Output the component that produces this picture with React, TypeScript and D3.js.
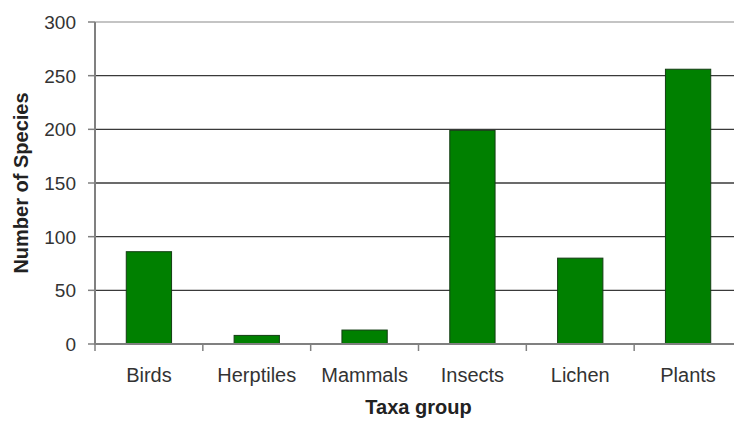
import React from "react";
import * as d3 from "d3";

const categories = ["Birds", "Herptiles", "Mammals", "Insects", "Lichen", "Plants"];
const speciesCounts = [86, 8, 13, 199, 80, 256];
const yTicks = [0, 50, 100, 150, 200, 250, 300];
const xAxisTitle = "Taxa group";
const yAxisTitle = "Number of Species";

const W = 734;
const H = 424;
const plotLeft = 95;
const plotRight = 742;
const plotTop = 22;
const plotBottom = 344;

export default function App() {
  React.useEffect(() => {
    document.body.style.margin = "0";
  }, []);

  const slot = d3.scaleBand<string>().domain(categories).range([plotLeft, plotRight]).padding(0);
  const y = d3.scaleLinear().domain([0, 300]).range([plotBottom, plotTop]);
  const barW = slot.bandwidth() * 0.42;
  const barOff = (slot.bandwidth() - barW) / 2;
  const font = "Arial, 'Liberation Sans', sans-serif";
  const boundaries = categories.map((c) => slot(c)!).concat([plotRight]);

  return (
    <svg width={W} height={H} style={{ position: "absolute", left: 0, top: 0, background: "#fff" }}>
      <rect x={0} y={0} width={W} height={H} fill="#fff" />
      {/* gridlines */}
      {yTicks.filter((t) => t > 0).map((t) => (
        <line key={t} x1={plotLeft} x2={plotRight} y1={y(t)} y2={y(t)}
          stroke={t === 300 ? "#b0b0b0" : "#3a3a3a"} strokeWidth={1.3} />
      ))}
      {/* bars */}
      {categories.map((c, i) => (
        <rect key={c} x={slot(c)! + barOff} y={y(speciesCounts[i])} width={barW}
          height={y(0) - y(speciesCounts[i])} fill="#008000" stroke="#143d14" strokeWidth={1} />
      ))}
      {/* y axis */}
      <line x1={plotLeft} x2={plotLeft} y1={plotTop} y2={plotBottom + 1} stroke="#808080" strokeWidth={2} />
      {yTicks.map((t) => (
        <g key={t}>
          <line x1={plotLeft - 7} x2={plotLeft} y1={y(t)} y2={y(t)} stroke="#808080" strokeWidth={1.5} />
          <text x={76} y={y(t)} dy="0.36em" textAnchor="end" fontFamily={font} fontSize={19} fill="#333">{t}</text>
        </g>
      ))}
      {/* x axis */}
      <line x1={plotLeft} x2={plotRight} y1={plotBottom} y2={plotBottom} stroke="#808080" strokeWidth={2} />
      {boundaries.map((b, i) => (
        <line key={i} x1={b} x2={b} y1={plotBottom} y2={plotBottom + 7} stroke="#808080" strokeWidth={1.5} />
      ))}
      {categories.map((c) => (
        <text key={c} x={slot(c)! + slot.bandwidth() / 2} y={382} textAnchor="middle"
          fontFamily={font} fontSize={20} fill="#333">{c}</text>
      ))}
      <text x={(plotLeft + plotRight) / 2} y={414} textAnchor="middle" fontFamily={font}
        fontSize={20} fontWeight="bold" fill="#222">{xAxisTitle}</text>
      <text transform={`translate(28,${(plotTop + plotBottom) / 2}) rotate(-90)`} textAnchor="middle"
        fontFamily={font} fontSize={20} fontWeight="bold" fill="#222">{yAxisTitle}</text>
    </svg>
  );
}
